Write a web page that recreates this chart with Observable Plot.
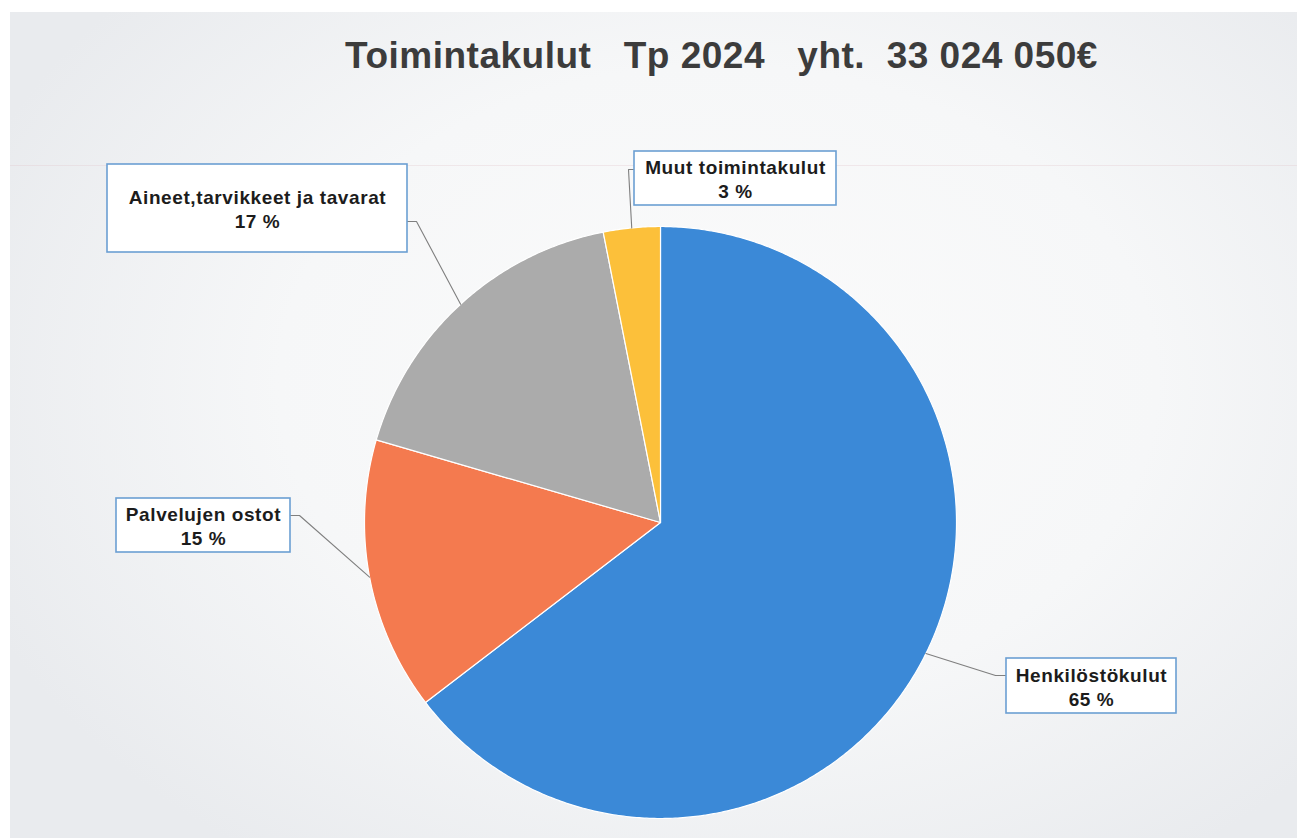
<!DOCTYPE html>
<html>
<head>
<meta charset="utf-8">
<script src="https://cdn.jsdelivr.net/npm/d3@7"></script>
<script src="https://cdn.jsdelivr.net/npm/@observablehq/plot@0.6"></script>
<style>
  html, body { margin: 0; padding: 0; background: #ffffff; }
  #wrap { position: relative; width: 1297px; height: 838px; overflow: hidden; background: #ffffff; }
  #panel { position: absolute; left: 10px; top: 12px; right: 0; bottom: 0;
    background: radial-gradient(ellipse 62% 70% at 55% 45%, #fbfbfb 0%, #f6f7f8 55%, #e9ebee 100%); }
  #rule { position: absolute; left: 10px; right: 0; top: 165px; height: 1px; background: rgba(225,200,205,0.35); }
  #title { position: absolute; left: 0; width: 1297px; top: 35px; text-align: center; padding-left: 146px; box-sizing: border-box;
    font-family: "Liberation Sans", Arial, sans-serif; font-weight: bold; font-size: 37px; color: #3c3c3c; white-space: pre; letter-spacing: 0.5px; }
  #chart { position: absolute; left: 0; top: 0; }
</style>
</head>
<body>
<div id="wrap">
  <div id="panel"></div>
  <div id="rule"></div>
  <div id="title">Toimintakulut   Tp 2024   yht.  33 024 050€</div>
  <div id="chart"></div>
</div>
<script>
// ---- data ----
const categories = ["Henkilöstökulut", "Palvelujen ostot", "Aineet,tarvikkeet ja tavarat", "Muut toimintakulut"];
const shares = [64.6, 14.9, 17.4, 3.1];           // % of total operating costs
const shareLabels = ["65 %", "15 %", "17 %", "3 %"];
const colors = ["#3b89d7", "#f47a4f", "#ababab", "#fcc03a"];

// ---- layout (pixels) ----
const W = 1297, H = 838;
const CX = 660, CY = 522, R = 296;
// label boxes [x1, y1, x2, y2], elbow point and box attach point, in page pixels
const labelLayout = [
  {box: [1006, 658, 1176, 713], elbow: [995, 675], attach: [1006, 675]},
  {box: [116, 498, 290, 552],   elbow: [299, 515], attach: [290, 515]},
  {box: [107, 164, 407, 252],   elbow: [416, 221], attach: [407, 221]},
  {box: [634, 151, 836, 205],   elbow: [628, 169], attach: [634, 169]}
];
const toU = px => (px - CX) / R;
const toV = py => (CY - py) / R;

// ---- slices from data ----
const total = d3.sum(shares);
let acc = 0;
const slices = categories.map((name, i) => {
  const a0 = acc / total * 2 * Math.PI;
  acc += shares[i];
  const a1 = acc / total * 2 * Math.PI;
  return {name, a0, a1, mid: (a0 + a1) / 2, i};
});
const polyPts = [];
for (const s of slices) {
  polyPts.push({name: s.name, x: 0, y: 0});
  const n = Math.max(4, Math.ceil((s.a1 - s.a0) / (Math.PI / 360)));
  for (let k = 0; k <= n; k++) {
    const a = s.a0 + (s.a1 - s.a0) * k / n;
    polyPts.push({name: s.name, x: Math.sin(a), y: Math.cos(a)});
  }
  polyPts.push({name: s.name, x: 0, y: 0});
}

// leader lines: slice mid-angle on the rim -> elbow -> box
const leaderPts = [];
slices.forEach((s, i) => {
  const L = labelLayout[i];
  leaderPts.push({name: s.name, x: Math.sin(s.mid), y: Math.cos(s.mid)});
  leaderPts.push({name: s.name, x: toU(L.elbow[0]), y: toV(L.elbow[1])});
  leaderPts.push({name: s.name, x: toU(L.attach[0]), y: toV(L.attach[1])});
});

const boxes = slices.map((s, i) => {
  const b = labelLayout[i].box;
  return {name: s.name, x1: toU(b[0]), x2: toU(b[2]), y1: toV(b[1]), y2: toV(b[3]),
    cx: toU((b[0] + b[2]) / 2), cy: toV((b[1] + b[3]) / 2),
    text: s.name + "\n" + shareLabels[i]};
});

const chart = Plot.plot({
  width: W, height: H,
  margin: 0,
  style: {background: "transparent", overflow: "visible", letterSpacing: "0.6px"},
  x: {domain: [toU(0), toU(W)], range: [0, W], axis: null},
  y: {domain: [toV(H), toV(0)], range: [H, 0], axis: null},
  color: {domain: categories, range: colors, legend: false},
  marks: [
    Plot.line(polyPts, {x: "x", y: "y", z: "name", fill: "name", stroke: "#ffffff", strokeWidth: 1.2, strokeLinejoin: "round"}),
    Plot.line(leaderPts, {x: "x", y: "y", z: "name", stroke: "#7f7f7f", strokeWidth: 1.1}),
    Plot.rect(boxes, {x1: "x1", x2: "x2", y1: "y1", y2: "y2", fill: "#ffffff", stroke: "#6b9fd3", strokeWidth: 1.6}),
    Plot.text(boxes, {x: "cx", y: "cy", text: "text", lineAnchor: "middle", lineHeight: 1.28,
      fontSize: 19, fontWeight: "bold", fontFamily: "Liberation Sans, Arial, sans-serif", fill: "#1c1c1c"})
  ]
});
document.getElementById("chart").appendChild(chart);
</script>
</body>
</html>
